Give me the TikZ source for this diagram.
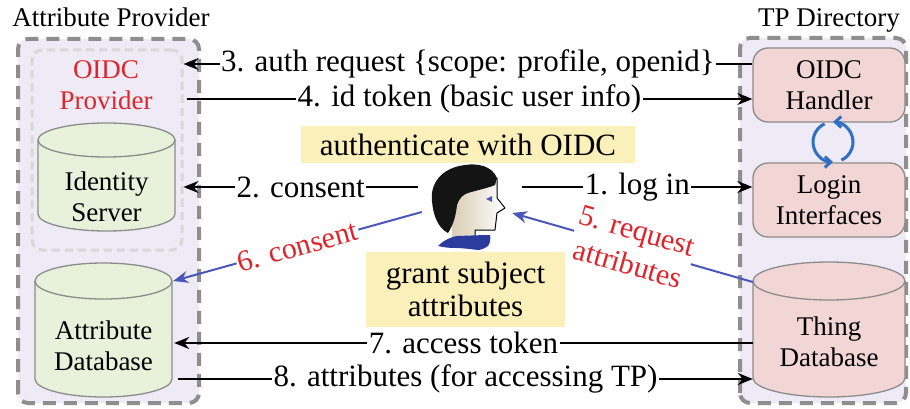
\documentclass[tikz,border=0pt]{standalone}
\usepackage{fontspec}
\setmainfont{Liberation Serif}
\usetikzlibrary{arrows.meta,calc}

\definecolor{lav}{HTML}{EEEAF6}
\definecolor{dashgray}{HTML}{8E8E8E}
\definecolor{dotgray}{HTML}{D8D8D8}
\definecolor{edgegray}{HTML}{8C8C8C}
\definecolor{greenfill}{HTML}{E8F1D9}
\definecolor{pinkfill}{HTML}{F2D5D5}
\definecolor{noteyellow}{HTML}{FCF0BA}
\definecolor{flowblue}{HTML}{4A57B8}
\definecolor{lblred}{HTML}{E0242C}
\definecolor{loopblue}{HTML}{2F6FC4}
\definecolor{hairblack}{HTML}{141414}
\definecolor{skin}{HTML}{D9CDB4}
\definecolor{collar}{HTML}{2C3C9E}

% database drum: centre x, top y, bottom y, half width, end radius, fill
\newcommand\drum[6]{%
  \path[fill=#6] (#1-#4,#2-#5) -- (#1-#4,#3+#5)
    arc[start angle=180,end angle=360,x radius=#4,y radius=#5]
    -- (#1+#4,#2-#5)
    arc[start angle=0,end angle=180,x radius=#4,y radius=#5] -- cycle;
  \draw[drumline] (#1-#4,#2-#5) -- (#1-#4,#3+#5)
    arc[start angle=180,end angle=360,x radius=#4,y radius=#5]
    -- (#1+#4,#2-#5)
    arc[start angle=0,end angle=180,x radius=#4,y radius=#5];
  \draw[drumline] (#1-#4,#2-#5)
    arc[start angle=180,end angle=360,x radius=#4,y radius=#5];
}

\tikzset{
  grpbox/.style={draw=dashgray, line width=4pt, dash pattern=on 13pt off 8pt,
    rounded corners=10pt, fill=lav},
  subbox/.style={draw=dotgray, line width=3pt, dash pattern=on 8pt off 5pt,
    rounded corners=10pt, minimum width=150pt, minimum height=200pt, inner sep=0},
  tpbox/.style={draw=edgegray, line width=1.3pt, fill=pinkfill, rounded corners=15pt,
    minimum width=152pt, minimum height=74pt, align=center, inner sep=0},
  drumline/.style={draw=edgegray, line width=1.3pt},
  drumtext/.style={align=center, inner sep=0},
  flow/.style={line width=2pt, -{Stealth[length=15pt,width=12pt]}},
  msg/.style={fill=white, inner sep=1.5pt, font=\fontsize{31}{35}\selectfont},
  blueflow/.style={draw=flowblue, line width=2pt, -{Stealth[length=15pt,width=12pt]}},
  redmsg/.style={text=lblred, fill=white, inner sep=1pt, sloped, align=center,
    font=\fontsize{30}{35}\selectfont},
  note/.style={fill=noteyellow, align=center, inner sep=0,
    font=\fontsize{31}{33}\selectfont},
  title/.style={anchor=base},
}

\begin{document}
\begin{tikzpicture}[x=1pt, y=1pt, font=\fontsize{27}{31}\selectfont]
\useasboundingbox (0,0) rectangle (910,408);

% group frames
\path[grpbox] (18,5) rectangle (199,369);
\path[grpbox] (740,5) rectangle (906,370);
\node[title] (aptitle) at (111,381) {Attribute Provider};
\node[title] (tptitle) at (829,381) {TP Directory};

% attribute provider side
\node[subbox] (oidcp) at (107,258) {};
\node[text=lblred, align=center] (oidcplbl) at (106,323) {OIDC\\Provider};
\drum{106.5}{285}{177}{68.5}{17}{greenfill}
\node[drumtext, minimum width=137pt] (idsrv) at (106.5,211) {Identity\\Server};
\drum{103.5}{145}{11}{68.5}{18}{greenfill}
\node[drumtext, minimum width=137pt] (attrdb) at (103.5,62) {Attribute\\Database};

% TP directory side
\node[tpbox] (handler) at (829,323) {OIDC\\Handler};
\node[tpbox] (login) at (829,208) {Login\\Interfaces};
\drum{829}{146}{11}{76}{19}{pinkfill}
\node[drumtext, minimum width=152pt] (thing) at (829,66) {Thing\\Database};

% handler <-> login loop
\draw[loopblue, line width=3pt, -{Straight Barb[length=6pt,width=11pt]}]
  (833,266) ++(-65:20) arc[start angle=-65, end angle=90, radius=20];
\draw[loopblue, line width=3pt, -{Straight Barb[length=6pt,width=11pt]}]
  (833,266) ++(115:20) arc[start angle=115, end angle=270, radius=20];

% notes
\node[note, minimum width=334pt, minimum height=37pt] (authnote) at (468,263.5) {authenticate with OIDC};
\node[note, minimum width=199pt, minimum height=75pt] (grantnote) at (465.5,118.5) {grant subject\\attributes};

% user
\node[minimum width=104pt, minimum height=100pt, inner sep=0] (user) at (470,198) {};
\begin{scope}[shift={(470,198)}]
  % face and neck
  \path[left color=skin, right color=white]
    (-18,-30) -- (-18,20) -- (27,32) -- (27,12) -- (35,2) -- (27,-3)
    -- (25,-20) -- (5,-20) -- (5,-30) -- cycle;
  \draw[black, line width=1pt, line join=round]
    (27,32) -- (27,12) -- (35,2) -- (27,-3) -- (25,-20) -- (5,-20) -- (5,-26);
  % collar
  \fill[collar] (-32,-36) .. controls (-26,-30) and (-19,-27) .. (-13,-26)
    -- (15,-25) -- (20,-25) .. controls (21,-29) and (20,-33) .. (18,-36)
    .. controls (15,-38) and (11,-40) .. (8,-40)
    .. controls (0,-39) and (-8,-38) .. (-15,-38)
    .. controls (-22,-38) and (-28,-37) .. (-32,-36) -- cycle;
  % hair
  \fill[hairblack] (27,32) .. controls (22,44) and (8,47) .. (-5,45)
    .. controls (-30,42) and (-40,25) .. (-38,9)
    .. controls (-37,-5) and (-32,-18) .. (-22,-23)
    .. controls (-16,-14) and (-14,-4) .. (-13,5)
    .. controls (-11,12) and (-6,16) .. (-2,17)
    .. controls (8,20) and (18,22) .. (25,25) -- cycle;
  % eye
  \fill[flowblue] (16,11) -- (22,14) -- (22,8) -- cycle;
\end{scope}

% messages
\draw[flow] ([yshift=21pt]handler.west) -- node[msg] {3. auth request \{scope: profile, openid\}} ([yshift=86pt]oidcp.east);
\draw[flow] ([yshift=51pt,xshift=3pt]oidcp.east) -- node[msg] {4. id token (basic user info)} ([yshift=-14pt]handler.west);
\draw[flow] ([yshift=23pt]user.west) -- node[msg] {2. consent} ([yshift=-37pt]oidcp.east);
\draw[flow] ([yshift=23pt]user.east) -- node[msg] {1. log in} ([yshift=13pt]login.west);
\draw[blueflow] ([xshift=4pt,yshift=-2pt]user.west) -- node[redmsg] {6. consent} ([xshift=1pt,yshift=65pt]attrdb.east);
\draw[blueflow] ([yshift=60pt]thing.west) -- node[redmsg] {5. request\\attributes} ([xshift=-10pt,yshift=-3pt]user.east);
\draw[flow] ([yshift=-1pt]thing.west) -- node[msg] {7. access token} ([xshift=2pt,yshift=3pt]attrdb.east);
\draw[flow] ([xshift=6pt,yshift=-33pt]attrdb.east) -- node[msg] {8. attributes (for accessing TP)} ([yshift=-37pt]thing.west);
\end{tikzpicture}
\end{document}
